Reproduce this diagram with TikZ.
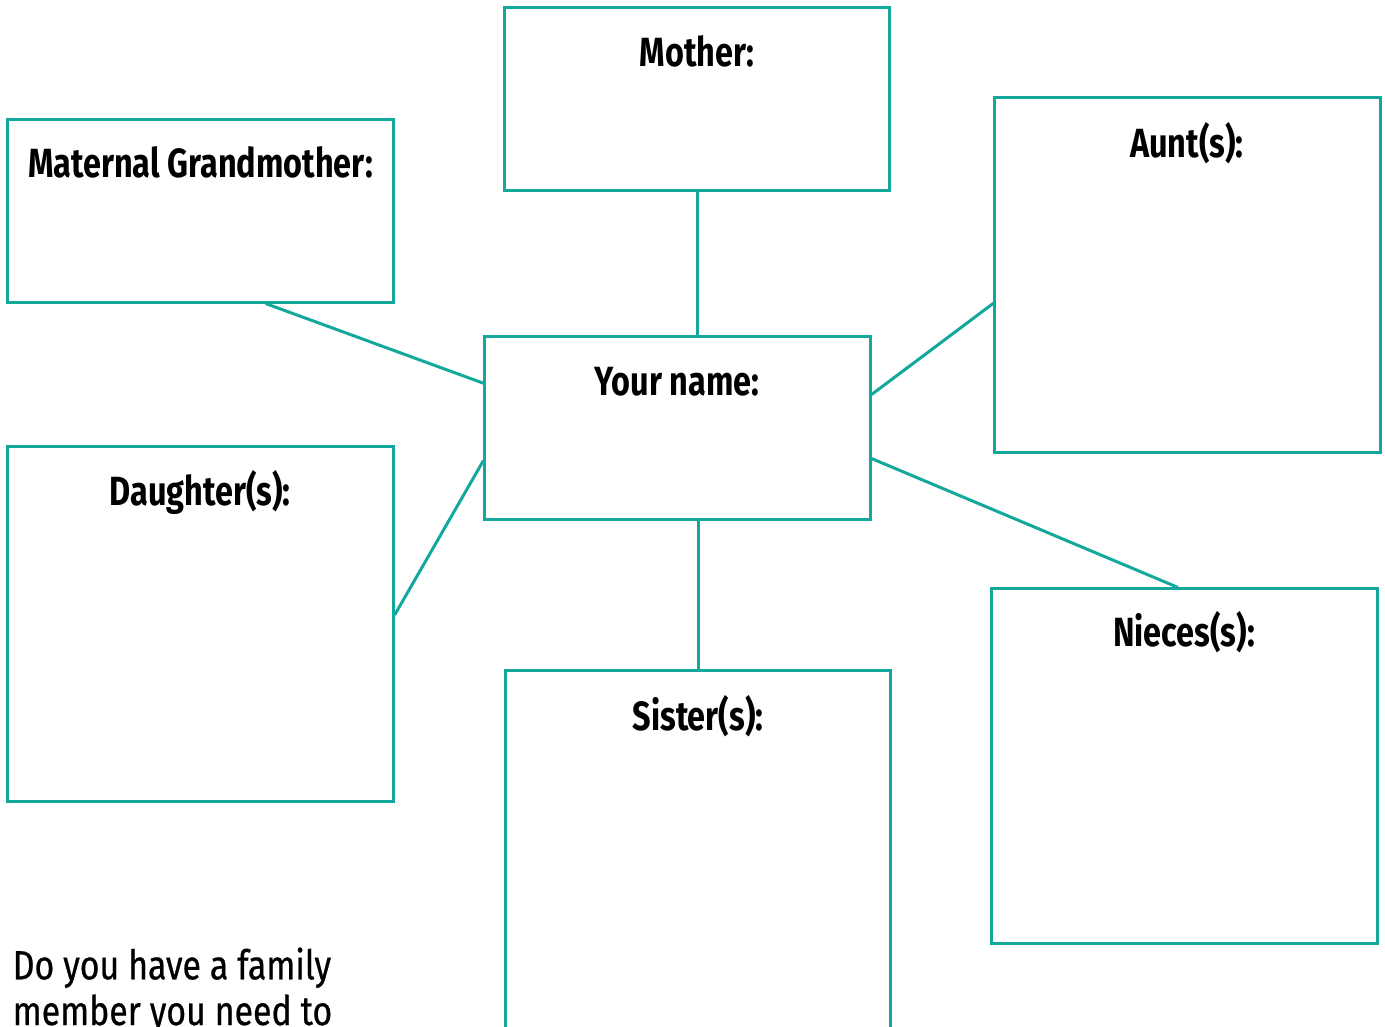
\documentclass[tikz,border=0pt]{standalone}
\usepackage{fontspec}
\setmainfont{Fira Sans}[FakeStretch=0.795]
\newfontfamily\bodyfont{Fira Sans}[FakeStretch=0.83, FakeBold=0.6]
\usetikzlibrary{calc}
\definecolor{teal1}{HTML}{13A89C}
\tikzset{
  box/.style={draw=teal1, line width=0.03cm, rectangle, inner sep=0pt, minimum width=3.85cm},
  conn/.style={draw=teal1, line width=0.03cm},
  lbl/.style={anchor=base, inner sep=0pt, font=\fontsize{11.6}{14}\selectfont\bfseries},
  body/.style={anchor=base west, inner sep=0pt, align=left, font=\fontsize{11.6}{13}\selectfont\bodyfont}
}
\begin{document}
\begin{tikzpicture}[x=0.01cm, y=-0.01cm]
\useasboundingbox (0,0) rectangle (1385,1026);
\clip (0,0) rectangle (1385,1026);
% boxes
\node[box, minimum height=1.82cm] (gm) at (200.5,211) {};
\node[box, minimum width=3.84cm, minimum height=1.82cm] (mo) at (697,99) {};
\node[box, minimum height=3.54cm] (au) at (1187.5,275) {};
\node[box, minimum height=1.82cm] (yn) at (677.5,428) {};
\node[box, minimum height=3.54cm] (da) at (200.5,624) {};
\node[box, minimum width=3.84cm, minimum height=3.69cm] (si) at (698,855.5) {};
\node[box, minimum height=3.54cm] (ni) at (1184.5,766) {};
% labels
\node[lbl] (tmo) at (697,66) {Mother:};
\node[lbl] (tgm) at (200.5,177) {Maternal Grandmother:};
\node[lbl] (tau) at (1187,157) {Aunt(s):};
\node[lbl] (tyn) at (677,395) {Your name:};
\node[lbl] (tda) at (200,505) {Daughter(s):};
\node[lbl] (tsi) at (698,730) {Sister(s):};
\node[lbl] (tni) at (1184,646) {Nieces(s):};
\node[body] (q) at (12,1025) {Do you have a family\\member you need to};
% connectors
\draw[conn] ($(gm.south west)!0.668!(gm.south east)$) -- ($(yn.north west)!0.258!(yn.south west)$);
\draw[conn] (mo.south) -- (mo.south |- yn.north);
\draw[conn] ($(yn.north east)!0.319!(yn.south east)$) -- ($(au.north west)!0.579!(au.south west)$);
\draw[conn] ($(da.north east)!0.475!(da.south east)$) -- ($(yn.north west)!0.676!(yn.south west)$);
\draw[conn] (si.north |- yn.south) -- (si.north);
\draw[conn] ($(yn.north east)!0.665!(yn.south east)$) -- ($(ni.north west)!0.483!(ni.north east)$);
\end{tikzpicture}
\end{document}
